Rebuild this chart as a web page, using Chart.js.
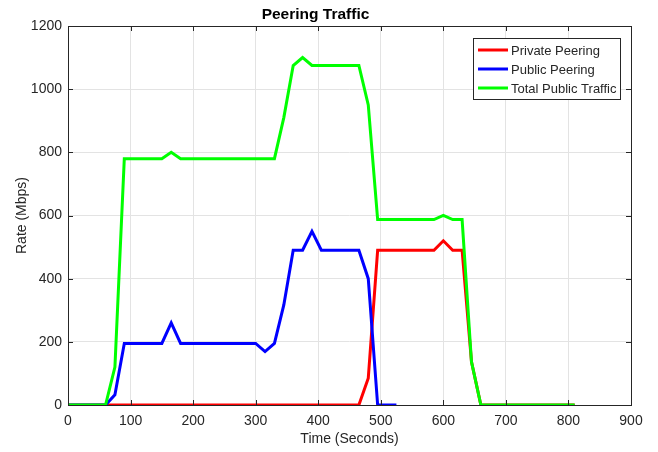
<!DOCTYPE html>
<html lang="en">
<head>
    <meta charset="UTF-8">
    <title>Peering Traffic</title>
    <script src="https://cdn.jsdelivr.net/npm/chart.js"></script>
    <style>
        body {
            margin: 0;
            background: #ffffff;
        }
        #chart {
            display: block;
        }
    </style>
</head>
<body>
    <canvas id="chart" width="658" height="452"></canvas>
    <script>
        // sample times (seconds)
        const times = [0, 15, 30, 45, 60, 75, 90, 105, 120, 135, 150, 165, 180, 195, 210, 225, 240, 255, 270, 285,
            300, 315, 330, 345, 360, 375, 390, 405, 420, 435, 450, 465, 480, 495, 510, 525, 540, 555, 570, 585,
            600, 615, 630, 645, 660, 675, 690, 705, 720, 735, 750, 765, 780, 795, 810];

        const privatePeering = [0, 0, 0, 0, 0, 0, 0, 0, 0, 0, 0, 0, 0, 0, 0, 0, 0, 0, 0, 0,
            0, 0, 0, 0, 0, 0, 0, 0, 0, 0, 0, 0, 85, 490, 490, 490, 490, 490, 490, 490,
            520, 490, 490, 137, 0, 0, 0, 0, 0, 0, 0, 0, 0, 0, 0];

        const publicPeering = [0, 0, 0, 0, 0, 32, 195, 195, 195, 195, 195, 260, 195, 195, 195, 195, 195, 195, 195, 195,
            195, 169, 195, 317, 490, 490, 550, 490, 490, 490, 490, 490, 400, 0, 0, 0];

        const totalPublic = [0, 0, 0, 0, 0, 120, 780, 780, 780, 780, 780, 800, 780, 780, 780, 780, 780, 780, 780, 780,
            780, 780, 780, 910, 1075, 1100, 1075, 1075, 1075, 1075, 1075, 1075, 950, 587, 587, 587, 587, 587, 587, 587,
            600, 587, 587, 137, 0, 0, 0, 0, 0, 0, 0, 0, 0, 0, 0];

        const seriesNames = ['Private Peering', 'Public Peering', 'Total Public Traffic'];
        const seriesColors = ['#ff0000', '#0000ff', '#00ff00'];
        const xTicks = [0, 100, 200, 300, 400, 500, 600, 700, 800, 900];
        const yTicks = [0, 200, 400, 600, 800, 1000, 1200];

        const fontFamily = "'Liberation Sans', Arial, Helvetica, sans-serif";
        const textColor = '#262626';

        function toPoints(values) {
            return values.map((v, i) => ({ x: times[i], y: v }));
        }

        // box around the axes plus inward tick marks (matlab style)
        const axesBox = {
            id: 'axesBox',
            afterDatasetsDraw(chart) {
                const { ctx, chartArea: a, scales } = chart;
                ctx.save();
                ctx.strokeStyle = textColor;
                ctx.lineWidth = 1;
                ctx.beginPath();
                xTicks.forEach(t => {
                    const px = Math.round(scales.x.getPixelForValue(t)) + 0.5;
                    ctx.moveTo(px, a.bottom); ctx.lineTo(px, a.bottom - 5);
                    ctx.moveTo(px, a.top); ctx.lineTo(px, a.top + 5);
                });
                yTicks.forEach(t => {
                    const py = Math.round(scales.y.getPixelForValue(t)) + 0.5;
                    ctx.moveTo(a.left, py); ctx.lineTo(a.left + 5, py);
                    ctx.moveTo(a.right, py); ctx.lineTo(a.right - 5, py);
                });
                ctx.stroke();
                ctx.strokeRect(Math.round(a.left) + 0.5, Math.round(a.top) + 0.5,
                    Math.round(a.right - a.left), Math.round(a.bottom - a.top));
                ctx.restore();
            }
        };

        // legend inside the plot, top right
        const insideLegend = {
            id: 'insideLegend',
            afterDraw(chart) {
                const ctx = chart.ctx;
                const x0 = 473.5, y0 = 38.5, w = 147, h = 61;
                ctx.save();
                ctx.fillStyle = '#ffffff';
                ctx.fillRect(x0, y0, w, h);
                ctx.strokeStyle = textColor;
                ctx.lineWidth = 1;
                ctx.strokeRect(x0, y0, w, h);
                ctx.font = '13px ' + fontFamily;
                ctx.textBaseline = 'middle';
                ctx.fillStyle = textColor;
                chart.data.datasets.forEach((ds, i) => {
                    const y = 50 + i * 19;
                    ctx.strokeStyle = ds.borderColor;
                    ctx.lineWidth = 3;
                    ctx.beginPath();
                    ctx.moveTo(478, y);
                    ctx.lineTo(508, y);
                    ctx.stroke();
                    ctx.fillText(ds.label, 511, y + 1);
                });
                ctx.restore();
            }
        };

        new Chart(document.getElementById('chart').getContext('2d'), {
            type: 'line',
            data: {
                datasets: [
                    { label: seriesNames[0], data: toPoints(privatePeering), borderColor: seriesColors[0], order: 3 },
                    { label: seriesNames[1], data: toPoints(publicPeering), borderColor: seriesColors[1], order: 2 },
                    { label: seriesNames[2], data: toPoints(totalPublic), borderColor: seriesColors[2], order: 1 }
                ]
            },
            options: {
                responsive: false,
                animation: false,
                devicePixelRatio: 1,
                layout: { padding: { left: 0, right: 27, top: 0, bottom: 0 } },
                elements: {
                    line: { borderWidth: 3, tension: 0, fill: false },
                    point: { radius: 0 }
                },
                plugins: {
                    legend: { display: false },
                    tooltip: { enabled: false },
                    title: {
                        display: true,
                        text: 'Peering Traffic',
                        color: '#000000',
                        font: { family: fontFamily, size: 15.5, weight: 'bold' },
                        padding: { top: 5, bottom: 2.4 }
                    }
                },
                scales: {
                    x: {
                        type: 'linear',
                        min: 0,
                        max: 900,
                        afterBuildTicks: s => { s.ticks = xTicks.map(v => ({ value: v })); },
                        afterFit: s => { s.height = 47; },
                        grid: { color: '#e3e3e3', drawTicks: false },
                        border: { display: false },
                        ticks: {
                            color: textColor, padding: 8, maxRotation: 0,
                            font: { family: fontFamily, size: 14 },
                            callback: v => String(v)
                        },
                        title: {
                            display: true,
                            text: 'Time (Seconds)',
                            color: textColor,
                            font: { family: fontFamily, size: 14 },
                            padding: { top: 0, bottom: 4 }
                        }
                    },
                    y: {
                        min: 0,
                        max: 1200,
                        afterBuildTicks: s => { s.ticks = yTicks.map(v => ({ value: v })); },
                        afterFit: s => { s.width = 68; },
                        grid: { color: '#e3e3e3', drawTicks: false },
                        border: { display: false },
                        ticks: {
                            color: textColor, padding: 6,
                            font: { family: fontFamily, size: 14 },
                            callback: v => String(v)
                        },
                        title: {
                            display: true,
                            text: 'Rate (Mbps)',
                            color: textColor,
                            font: { family: fontFamily, size: 14 },
                            padding: { top: 14, bottom: 0 }
                        }
                    }
                }
            },
            plugins: [axesBox, insideLegend]
        });
    </script>
</body>
</html>
